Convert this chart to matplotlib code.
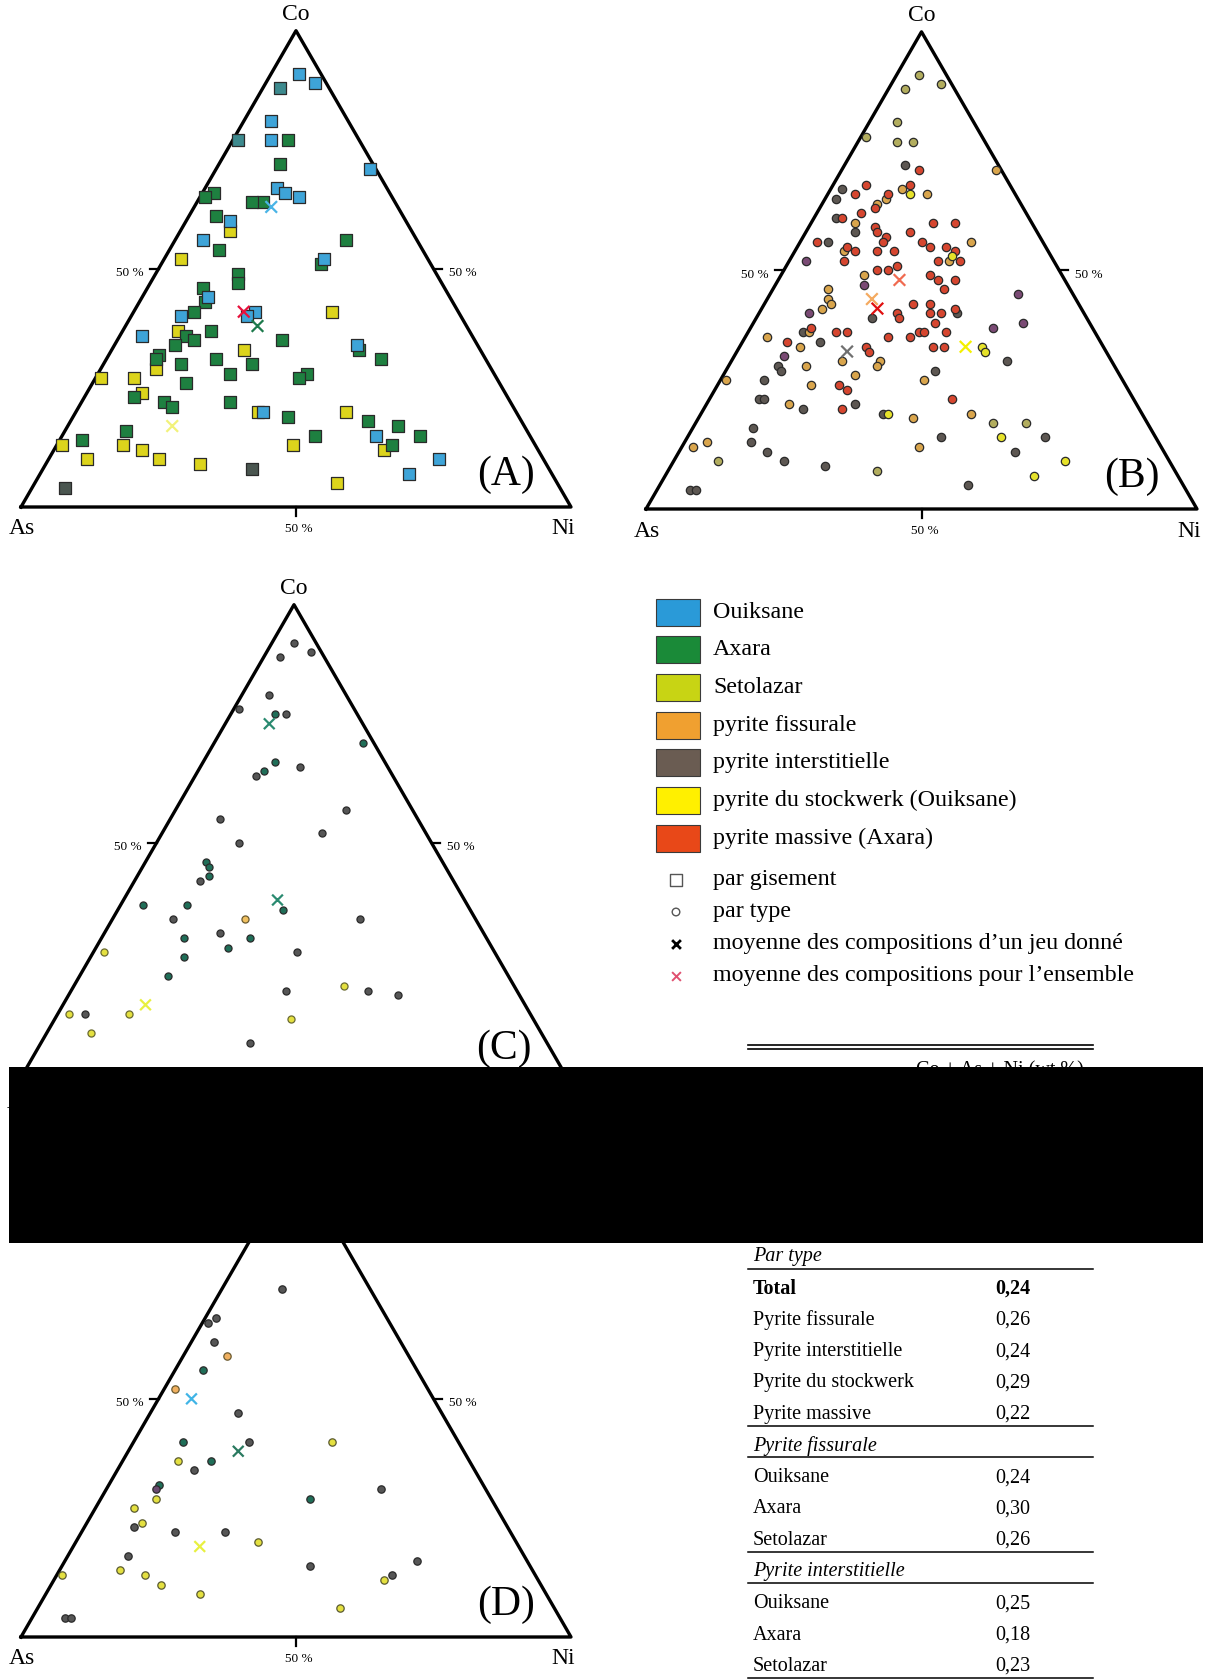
import numpy as np
import matplotlib
matplotlib.use('Agg')
import matplotlib.pyplot as plt
from matplotlib.patches import Rectangle

plt.rcParams['font.family'] = ['Liberation Serif', 'DejaVu Serif']

W, H = 1209, 1680
SQ3 = np.sqrt(3) / 2

# compositions as (Co %, Ni %), As = 100 - Co - Ni
# (A) par gisement
a_ouiksane = [(91, 5), (89, 9), (81, 5), (77, 7), (71, 28), (67, 13), (66, 15), (65, 18), (60, 8),
              (56, 5), (52, 29), (44, 12), (41, 22), (40, 21), (40, 9), (36, 4), (34, 44), (20, 34),
              (15, 57), (10, 71), (7, 67)]
a_mixed = [(88, 3), (77, 1)]
a_axara = [(77, 10), (72, 11), (66, 2), (65, 1), (64, 12), (64, 10), (61, 5), (54, 9), (56, 31), (51, 29),
           (49, 15), (47, 16), (46, 10), (43, 12), (41, 11), (36, 12), (35, 14), (37, 16), (34, 11), (32, 9),
           (31, 9), (35, 30), (33, 45), (31, 50), (30, 14), (31, 20), (30, 27), (28, 24), (28, 38), (27, 37),
           (26, 17), (23, 9), (22, 15), (21, 17), (22, 27), (19, 39), (18, 54), (17, 60), (15, 65), (15, 46),
           (16, 11), (14, 4), (13, 61)]
a_setolazar = [(58, 9), (52, 3), (41, 36), (37, 10), (33, 24), (29, 10), (27, 1), (27, 7), (24, 10), (20, 33),
               (20, 49), (13, 12), (13, 1), (12, 16), (10, 7), (10, 20), (9, 28), (13, 43), (12, 60), (5, 55)]
a_gray = [(8, 38), (4, 6)]
a_means = [(63, 14), (38, 24), (17, 19), (41, 20)]
a_mean_colors = ['#4ab4e6', '#1d7a4c', '#f2f27a', '#e8103c']

# (B) par type
b_massive = [(71, 14), (68, 6), (66, 5), (66, 11), (68, 14), (62, 8), (63, 10), (61, 5), (59, 12), (58, 13),
             (58, 19), (57, 15), (60, 22), (60, 26), (56, 15), (56, 22), (56, 3), (55, 9), (54, 11), (54, 15),
             (54, 18), (55, 24), (55, 27), (54, 29), (52, 27), (52, 31), (52, 10), (51, 20), (50, 17), (50, 19),
             (49, 27), (48, 29), (48, 32), (46, 31), (43, 27), (43, 30), (42, 35), (41, 25), (40, 26), (41, 31),
             (41, 33), (38, 11), (39, 33), (37, 16), (37, 18), (36, 26), (36, 30), (37, 31), (37, 32), (37, 36),
             (35, 8), (34, 23), (33, 24), (34, 35), (34, 37), (26, 22), (25, 24), (21, 25), (23, 44)]
b_fissurale = [(71, 28), (67, 13), (66, 18), (64, 10), (65, 11), (60, 8), (56, 31), (54, 9), (52, 29), (49, 15),
               (46, 10), (44, 11), (43, 12), (42, 11), (37, 11), (36, 4), (34, 11), (31, 20), (31, 27), (30, 27),
               (30, 14), (26, 17), (28, 24), (27, 37), (27, 1), (22, 15), (20, 49), (19, 39), (14, 4), (13, 2),
               (13, 43)]
b_olive = [(91, 4), (88, 3), (89, 9), (81, 5), (78, 1), (77, 7), (77, 10), (18, 54), (18, 60), (8, 38), (10, 8)]
b_inter = [(72, 11), (67, 2), (65, 2), (61, 4), (58, 9), (56, 5), (40, 21), (41, 36), (37, 10), (35, 14),
           (31, 50), (30, 9), (29, 10), (29, 38), (27, 8), (23, 9), (23, 10), (21, 18), (22, 27), (20, 33),
           (15, 65), (17, 11), (14, 12), (12, 16), (15, 46), (12, 61), (10, 20), (9, 28), (5, 56), (4, 6), (4, 7)]
b_stockwerk = [(66, 15), (53, 29), (34, 44), (33, 45), (20, 34), (15, 57), (10, 71), (7, 67)]
b_purple = [(52, 3), (47, 16), (45, 45), (41, 9), (39, 49), (38, 44), (32, 9)]
b_means = [(48, 22), (44, 19), (33, 20), (34, 41), (42, 21)]
b_mean_colors = ['#f06a50', '#f4aa60', '#707070', '#f4f000', '#e01010']

# (C)
c_gray = [(92, 4), (89, 3), (90, 8), (81, 5), (78, 1), (77, 10), (64, 11), (66, 18), (55, 9), (50, 15),
          (52, 29), (57, 31), (42, 12), (34, 11), (34, 45), (31, 21), (27, 37), (19, 39), (19, 54), (18, 60),
          (14, 5), (8, 38)]
c_teal = [(77, 8), (71, 27), (67, 13), (65, 12), (46, 11), (45, 12), (43, 13), (37, 4), (37, 12), (36, 30),
          (30, 15), (30, 27), (28, 24), (26, 17), (22, 16)]
c_yellow = [(27, 2), (20, 49), (14, 2), (14, 13), (10, 8), (13, 43)]
c_orange = [(34, 24)]
c_means = [(75, 8), (38, 28), (16, 15)]
c_mean_colors = ['#2a8a70', '#2a8a70', '#e8f040']

# (D)
d_gray = [(73, 11), (67, 2), (66, 1), (62, 4), (47, 16), (41, 21), (35, 14), (31, 50), (23, 9), (22, 17),
          (22, 26), (17, 11), (15, 45), (16, 64), (13, 61), (4, 6), (4, 7)]
d_teal = [(56, 5), (41, 9), (37, 16), (32, 9), (29, 38)]
d_yellow = [(37, 10), (41, 36), (29, 10), (27, 7), (24, 10), (20, 33), (14, 11), (13, 16), (11, 20), (9, 28),
            (12, 60), (13, 1), (6, 55)]
d_orange = [(59, 8), (52, 2)]
d_purple = [(31, 9)]
d_means = [(50, 6), (39, 20), (19, 23)]
d_mean_colors = ['#40b4e6', '#2a7a60', '#e8f040']

leg_names = ['Ouiksane', 'Axara', 'Setolazar', 'pyrite fissurale', 'pyrite interstitielle',
             'pyrite du stockwerk (Ouiksane)', 'pyrite massive (Axara)']
leg_colors = ['#2a9ad8', '#1a8a38', '#c8d414', '#f0a030', '#6a5c52', '#fff000', '#e84818']
mark_names = ['par gisement', 'par type', 'moyenne des compositions d\u2019un jeu donn\u00e9',
              'moyenne des compositions pour l\u2019ensemble']

tab_title = 'Co + As + Ni (wt %)'
tab_sections = [
    ('Par type', ['Total', 'Pyrite fissurale', 'Pyrite interstitielle', 'Pyrite du stockwerk', 'Pyrite massive'],
     ['0,24', '0,26', '0,24', '0,29', '0,22']),
    ('Pyrite fissurale', ['Ouiksane', 'Axara', 'Setolazar'], ['0,24', '0,30', '0,26']),
    ('Pyrite interstitielle', ['Ouiksane', 'Axara', 'Setolazar'], ['0,25', '0,18', '0,23']),
]


def tern_xy(pts):
    p = np.asarray(pts, dtype=float) / 100.0
    co, ni = p[:, 0], p[:, 1]
    return ni + co / 2, co * SQ3


def tern_axes(fig, as_px, letter, width=550):
    x0, y0 = as_px
    ax = fig.add_axes([x0 / W, 1 - y0 / H, width / W, width * SQ3 / H])
    ax.set_xlim(0, 1)
    ax.set_ylim(0, SQ3)
    ax.axis('off')
    ax.plot([0, 1, 0.5, 0], [0, 0, SQ3, 0], color='k', lw=2.4, clip_on=False, zorder=1)
    t = 0.016
    ax.plot([0.25 - t, 0.25], [SQ3 / 2] * 2, color='k', lw=1.6, clip_on=False)
    ax.plot([0.75, 0.75 + t], [SQ3 / 2] * 2, color='k', lw=1.6, clip_on=False)
    ax.plot([0.5, 0.5], [0, -t], color='k', lw=1.6, clip_on=False)
    ax.text(0.5, SQ3 + 0.03, 'Co', ha='center', va='center', fontsize=17)
    ax.text(0.002, -0.04, 'As', ha='center', va='center', fontsize=17)
    ax.text(0.985, -0.04, 'Ni', ha='center', va='center', fontsize=17)
    ax.text(0.506, -0.04, '50 %', ha='center', va='center', fontsize=9.5)
    ax.text(0.198, 0.425, '50 %', ha='center', va='center', fontsize=9.5)
    ax.text(0.804, 0.425, '50 %', ha='center', va='center', fontsize=9.5)
    ax.text(0.882, 0.058, '(%s)' % letter, ha='center', va='center', fontsize=30)
    return ax


def dots(ax, pts, color, marker='o', s=36, ec='#2a2a2a', lw=0.9):
    x, y = tern_xy(pts)
    ax.scatter(x, y, s=s, c=color, marker=marker, edgecolors=ec, linewidths=lw, clip_on=False, zorder=3)


def means(ax, pts, colors, s=70, lw=1.6):
    x, y = tern_xy(pts)
    ax.scatter(x, y, s=s, c=colors, marker='x', linewidths=lw, clip_on=False, zorder=4)


fig = plt.figure(figsize=(W / 100, H / 100), dpi=100)

# (A)
ax = tern_axes(fig, (21, 507), 'A')
sq = dict(marker='s', s=68, lw=0.9)
dots(ax, a_setolazar, '#dcd41c', **sq)
dots(ax, a_axara, '#1e8040', **sq)
dots(ax, a_ouiksane, '#3ea4d8', **sq)
dots(ax, a_mixed, '#3d8a8e', **sq)
dots(ax, a_gray, '#4a5650', **sq)
means(ax, a_means, a_mean_colors)

# (B)
ax = tern_axes(fig, (646, 509), 'B', width=551)
dots(ax, b_olive, '#b2ad5e')
dots(ax, b_inter, '#5d5752')
dots(ax, b_fissurale, '#d9a54c')
dots(ax, b_massive, '#d6462f')
dots(ax, b_stockwerk, '#e6e22a')
dots(ax, b_purple, '#7a4a74')
means(ax, b_means, b_mean_colors)

# (C)
ax = tern_axes(fig, (19, 1081), 'C')
dots(ax, c_gray, '#565656', s=26)
dots(ax, c_teal, '#1f6e58', s=26)
dots(ax, c_yellow, '#e4e040', s=26, ec='#6a6a30')
dots(ax, c_orange, '#f0c060', s=26, ec='#6a5a30')
means(ax, c_means, c_mean_colors, s=60)

# (D)
ax = tern_axes(fig, (21, 1637), 'D')
dots(ax, d_gray, '#565656', s=28)
dots(ax, d_teal, '#1f6e58', s=28)
dots(ax, d_yellow, '#e4e040', s=28, ec='#5a5a30')
dots(ax, d_orange, '#f0b060', s=28, ec='#6a5a30')
dots(ax, d_purple, '#6a4a70', s=28)
means(ax, d_means, d_mean_colors, s=60)

# overlay in pixel coordinates: legend, table, mask
ov = fig.add_axes([0, 0, 1, 1])
ov.set_xlim(0, W)
ov.set_ylim(H, 0)
ov.axis('off')
ov.set_zorder(5)

for i, (name, col) in enumerate(zip(leg_names, leg_colors)):
    y = 612 + i * 37.7
    ov.add_patch(Rectangle((656, y - 13.5), 44, 27, facecolor=col, edgecolor='#3a3a3a', lw=0.8))
    ov.text(713, y, name, va='center', fontsize=17.3)

mark_y = [880, 912, 944, 976]
ov.scatter([676], [mark_y[0]], s=75, marker='s', facecolors='none', edgecolors='#555555', linewidths=1.0)
ov.scatter([676], [mark_y[1]], s=30, marker='o', facecolors='none', edgecolors='#555555', linewidths=1.0)
ov.scatter([676], [mark_y[2]], s=40, marker='x', c='k', linewidths=2.0)
ov.scatter([676], [mark_y[3]], s=40, marker='x', c='#e05070', linewidths=1.4)
for name, y in zip(mark_names, mark_y):
    ov.text(713, y, name, va='center', fontsize=17.3)

# table
xl, xr = 748, 1093
ov.plot([xl, xr], [1045, 1045], color='k', lw=1.2)
ov.plot([xl, xr], [1049, 1049], color='k', lw=1.2)
ov.text(1000, 1061, tab_title, ha='center', va='top', fontsize=14.5)
y = 1257
for title, labels, values in tab_sections:
    ov.text(753, y, title, style='italic', va='center', fontsize=14.5)
    y += 11.5
    ov.plot([xl, xr], [y, y], color='k', lw=1.1)
    y += 20.5
    for lab, val in zip(labels, values):
        w = 'bold' if lab == 'Total' else 'normal'
        ov.text(753, y, lab, va='center', fontsize=14.5, fontweight=w)
        ov.text(995, y, val, va='center', fontsize=14.5, fontweight=w)
        y += 31.3
    y = y - 31.3 + 12
    ov.plot([xl, xr], [y, y], color='k', lw=1.1)
    y += 19.5

ov.add_patch(Rectangle((9, 1067), 1194, 176, facecolor='k', edgecolor='none', zorder=20))

fig.savefig('out.png', dpi=100, facecolor='white')
